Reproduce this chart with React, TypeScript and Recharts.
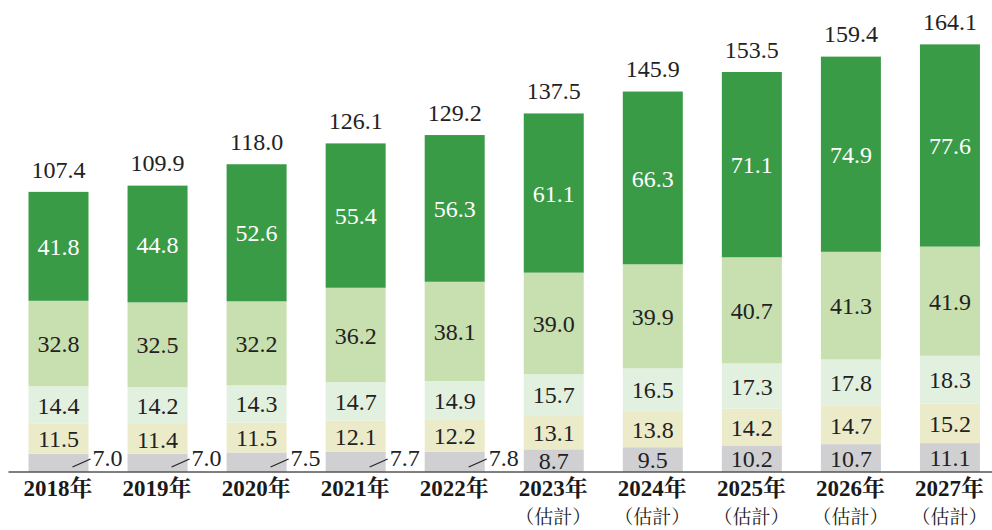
import React from "react"
import { BarChart, Bar, XAxis, YAxis } from "recharts"

const years = ["2018", "2019", "2020", "2021", "2022", "2023", "2024", "2025", "2026", "2027"]
const estimated = [false, false, false, false, false, true, true, true, true, true]
const seg1 = [7.0, 7.0, 7.5, 7.7, 7.8, 8.7, 9.5, 10.2, 10.7, 11.1]
const seg2 = [11.5, 11.4, 11.5, 12.1, 12.2, 13.1, 13.8, 14.2, 14.7, 15.2]
const seg3 = [14.4, 14.2, 14.3, 14.7, 14.9, 15.7, 16.5, 17.3, 17.8, 18.3]
const seg4 = [32.8, 32.5, 32.2, 36.2, 38.1, 39.0, 39.9, 40.7, 41.3, 41.9]
const seg5 = [41.8, 44.8, 52.6, 55.4, 56.3, 61.1, 66.3, 71.1, 74.9, 77.6]
const totals = [107.4, 109.9, 118.0, 126.1, 129.2, 137.5, 145.9, 153.5, 159.4, 164.1]

const data = years.map((year, i) => ({
  year,
  s1: seg1[i],
  s2: seg2[i],
  s3: seg3[i],
  s4: seg4[i],
  s5: seg5[i],
  total: totals[i],
}))

const SERIF = "Liberation Serif"
const CJK = "Noto Serif CJK TC"
const LABEL_SIZE = 24

const fmt = (v: any) => Number(v).toFixed(1)

function Num(props: any) {
  const { x, y, anchor, fill, children } = props
  return (
    <text x={x} y={y} dy="0.36em" textAnchor={anchor || "middle"} fontFamily={SERIF} fontSize={LABEL_SIZE} fill={fill || "#222"}>
      <tspan fontFamily={SERIF}>{children}</tspan>
    </text>
  )
}

// bar segment drawn together with its own value label
const segShape = (key: string, textFill: string, mode: "inside" | "bottom" | "top") => (props: any) => {
  const { x, y, width, height, fill, payload } = props
  const v = payload[key]
  let label = <Num x={x + width / 2} y={y + height / 2} fill={textFill}>{fmt(v)}</Num>
  if (mode === "bottom" && v < 8) {
    const right = x + width
    const base = y + height
    label = (
      <g>
        <line x1={right - 16} y1={base - 5} x2={right + 2} y2={base - 13} stroke="#222" strokeWidth={1.2} />
        <Num x={right + 4} y={base - 15} anchor="start">{fmt(v)}</Num>
      </g>
    )
  }
  return (
    <g>
      <rect x={x} y={y} width={width} height={height} fill={fill} />
      {label}
      {mode === "top" && <Num x={x + width / 2} y={y - 23}>{fmt(payload.total)}</Num>}
    </g>
  )
}

function YearTick(props: any) {
  const { x, y, payload, index } = props
  const est = estimated[index]
  return (
    <g transform={`translate(${x},${y})`}>
      <text x={0} y={8} dy="0.36em" textAnchor="middle" fontSize={23} fontWeight="bold" fill="#1a1a1a">
        <tspan fontFamily={SERIF}>{payload.value}</tspan>
        <tspan fontFamily={CJK}>年</tspan>
      </text>
      {est && (
        <text x={0} y={37} dy="0.36em" textAnchor="middle" fontSize={19} fill="#1a1a1a">
          <tspan fontFamily={CJK}>（估計）</tspan>
        </text>
      )}
    </g>
  )
}

export default function App() {
  return (
    <div style={{ position: "absolute", left: 0, top: 0, width: 992, height: 530, overflow: "hidden", background: "#fff" }}>
      <BarChart
        width={1000}
        height={530}
        data={data}
        margin={{ top: 29, right: 1, left: 8.5, bottom: 0 }}
        barSize={60}
      >
        <XAxis
          dataKey="year"
          height={58}
          axisLine={{ stroke: "#555", strokeWidth: 1.5 }}
          tickLine={false}
          interval={0}
          tick={<YearTick />}
        />
        <YAxis hide domain={[0, 170]} />
        <Bar dataKey="s1" stackId="a" fill="#d0d0d3" isAnimationActive={false} shape={segShape("s1", "#222", "bottom")} />
        <Bar dataKey="s2" stackId="a" fill="#ebebca" isAnimationActive={false} shape={segShape("s2", "#222", "inside")} />
        <Bar dataKey="s3" stackId="a" fill="#e2f0df" isAnimationActive={false} shape={segShape("s3", "#222", "inside")} />
        <Bar dataKey="s4" stackId="a" fill="#c8dfb0" isAnimationActive={false} shape={segShape("s4", "#222", "inside")} />
        <Bar dataKey="s5" stackId="a" fill="#3a9b46" isAnimationActive={false} shape={segShape("s5", "#fff", "top")} />
      </BarChart>
    </div>
  )
}
